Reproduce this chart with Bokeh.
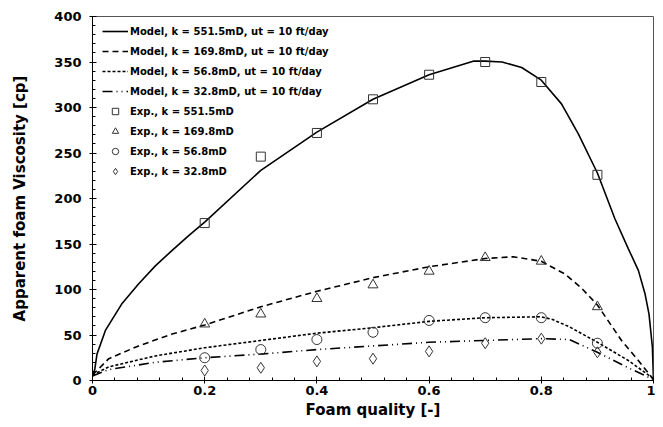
from bokeh.plotting import figure
from bokeh.models import Range1d, SingleIntervalTicker, Legend, LegendItem
from bokeh.embed import file_html
from bokeh.resources import INLINE

# Model curves
m551_x = [0, 0.004, 0.008, 0.023, 0.052, 0.082, 0.112, 0.142, 0.171, 0.2, 0.3, 0.4, 0.5, 0.6, 0.68, 0.7, 0.73, 0.765, 0.8, 0.836, 0.866, 0.9, 0.931, 0.955, 0.973, 0.985, 0.992, 0.998, 1.0]
m551_y = [5, 12, 29, 55, 84, 106, 126, 143, 159, 174, 231, 273, 309, 336, 351, 351, 350, 344, 330, 304, 271, 228, 178, 145, 121, 95, 73, 37, 0]

m169_x = [0, 0.029, 0.082, 0.142, 0.2, 0.3, 0.4, 0.5, 0.6, 0.7, 0.75, 0.8, 0.842, 0.871, 0.9, 0.943, 0.973, 1.0]
m169_y = [6, 24, 38, 51, 61, 81, 98, 113, 125, 134, 136, 131, 117, 102, 83, 44, 22, 1]

m56_x = [0, 0.029, 0.112, 0.2, 0.3, 0.4, 0.5, 0.6, 0.7, 0.8, 0.82, 0.85, 0.9, 0.955, 1.0]
m56_y = [6, 15, 27, 36, 44, 52, 58, 65, 69, 70, 67, 59, 42, 22, 2]

m32_x = [0, 0.029, 0.112, 0.2, 0.3, 0.4, 0.5, 0.6, 0.7, 0.8, 0.85, 0.9, 0.955, 1.0]
m32_y = [5, 12, 20, 25, 29, 34, 38, 42, 44, 46, 45, 31, 14, 1]

# Experimental points
exp_x = [0.2, 0.3, 0.4, 0.5, 0.6, 0.7, 0.8, 0.9]
e551 = [173, 246, 272, 309, 336, 350, 328, 226]
e169 = [62, 73, 90, 105, 120, 135, 131, 81]
e56 = [25, 34, 45, 53, 66, 69, 69, 41]
e32 = [11, 14, 21, 24, 32, 41, 46, 31]

model_labels = ["Model, k = 551.5mD, ut = 10 ft/day", "Model, k = 169.8mD, ut = 10 ft/day",
                "Model, k = 56.8mD, ut = 10 ft/day", "Model, k = 32.8mD, ut = 10 ft/day"]
exp_labels = ["Exp., k = 551.5mD", "Exp., k = 169.8mD", "Exp., k = 56.8mD", "Exp., k = 32.8mD"]

FONT = "DejaVu Sans"

p = figure(width=655, height=425, output_backend="svg", toolbar_location=None,
           x_range=Range1d(0, 1), y_range=Range1d(0, 400),
           min_border_left=92, min_border_right=2, min_border_top=16, min_border_bottom=45)
p.xgrid.visible = False
p.ygrid.visible = False
p.outline_line_color = "#555555"
p.outline_line_width = 1

lines = []
lines.append(p.line(m551_x, m551_y, line_color="black", line_width=1.6))
lines.append(p.line(m169_x, m169_y, line_color="black", line_width=1.6, line_dash="6 4"))
lines.append(p.line(m56_x, m56_y, line_color="black", line_width=1.6, line_dash="3 2"))
lines.append(p.line(m32_x, m32_y, line_color="black", line_width=1.6, line_dash="10 4 1 4 1 4"))

mk = dict(fill_color=None, line_color="#333333", line_width=1)
pts = []
pts.append(p.scatter(exp_x, e551, marker="square", size=9, **mk))
pts.append(p.scatter(exp_x, e169, marker="triangle", size=10, **mk))
pts.append(p.scatter(exp_x, e56, marker="circle", size=10, **mk))
pts.append(p.scatter(exp_x, e32, marker="diamond", size=11, **mk))

items = [LegendItem(label=l, renderers=[r]) for l, r in zip(model_labels, lines)]
items += [LegendItem(label=l, renderers=[r]) for l, r in zip(exp_labels, pts)]
legend = Legend(items=items, location=(10, 201))
legend.margin = 0
legend.padding = 0
legend.spacing = 4
legend.glyph_width = 26
legend.glyph_height = 16
legend.label_height = 16
legend.label_standoff = 2
legend.label_text_font = FONT
legend.label_text_font_style = "bold"
legend.label_text_font_size = "10px"
legend.label_text_color = "black"
legend.background_fill_alpha = 0
legend.border_line_alpha = 0
p.add_layout(legend)

p.xaxis.ticker = SingleIntervalTicker(interval=0.2, num_minor_ticks=5)
p.yaxis.ticker = SingleIntervalTicker(interval=50, num_minor_ticks=5)
p.xaxis.axis_label = "Foam quality [-]"
p.yaxis.axis_label = "Apparent foam Viscosity [cp]"
for ax in (p.xaxis[0], p.yaxis[0]):
    ax.axis_label_text_font = FONT
    ax.axis_label_text_font_style = "bold"
    ax.axis_label_text_font_size = "15px"
    ax.axis_label_text_color = "black"
    ax.major_label_text_font = FONT
    ax.major_label_text_font_style = "bold"
    ax.major_label_text_font_size = "13px"
    ax.major_label_text_color = "black"
    ax.axis_line_color = "black"
    ax.major_tick_line_color = "black"
    ax.minor_tick_line_color = "black"
    ax.major_tick_in = 4
    ax.major_tick_out = 3
    ax.minor_tick_in = 3
    ax.minor_tick_out = 0
p.xaxis.major_label_standoff = 2
p.xaxis.axis_label_standoff = 3
p.yaxis.major_label_standoff = 8
p.yaxis.axis_label_standoff = 22
p.xaxis.major_label_overrides = {0: "0", 1: "1"}

open("out.html", "w").write(file_html(p, INLINE))
